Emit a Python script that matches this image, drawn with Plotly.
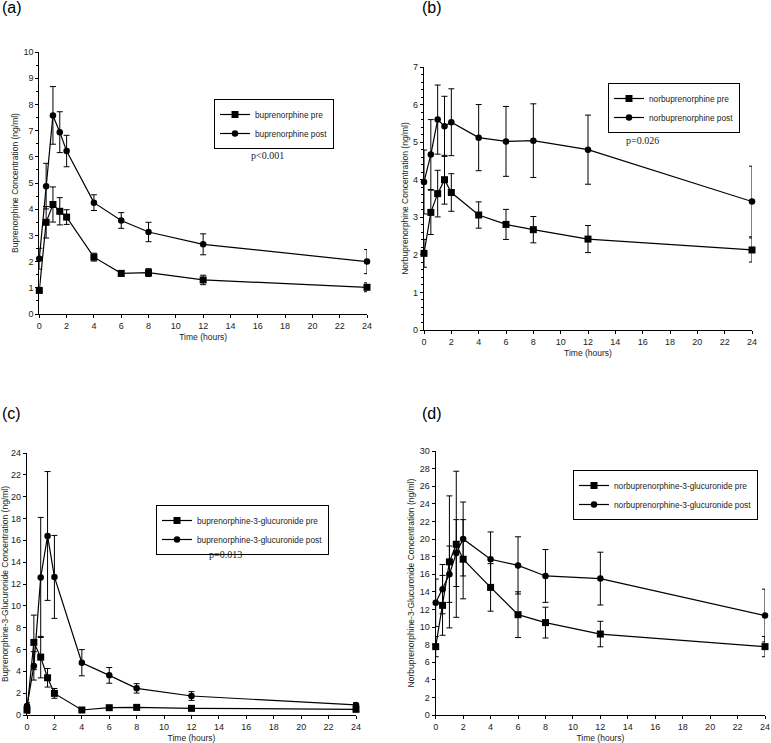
import plotly.graph_objects as go

time = [0, 0.5, 1, 1.5, 2, 4, 6, 8, 12, 24]

# Panel (a) buprenorphine
bup_pre = [0.9, 3.5, 4.18, 3.92, 3.7, 2.17, 1.55, 1.58, 1.3, 1.02]
bup_pre_err = [0.08, 0.6, 0.67, 0.52, 0.28, 0.15, 0.1, 0.15, 0.18, 0.17]
bup_post = [2.11, 4.88, 7.58, 6.94, 6.22, 4.25, 3.57, 3.13, 2.66, 2.0]
bup_post_err = [0.4, 0.87, 1.1, 0.78, 0.6, 0.3, 0.3, 0.37, 0.4, 0.46]

# Panel (b) norbuprenorphine
nor_pre = [2.04, 3.13, 3.63, 4.0, 3.66, 3.06, 2.81, 2.67, 2.42, 2.13]
nor_pre_err = [0.37, 0.59, 0.62, 0.65, 0.5, 0.35, 0.4, 0.35, 0.36, 0.32]
nor_post = [3.94, 4.67, 5.6, 5.42, 5.53, 5.12, 5.02, 5.04, 4.8, 3.42]
nor_post_err = [0.85, 0.93, 0.92, 0.8, 0.89, 0.88, 0.93, 0.98, 0.92, 0.94]

# Panel (c) buprenorphine-3-glucuronide
b3g_pre = [0.46, 6.65, 5.3, 3.41, 1.98, 0.46, 0.67, 0.7, 0.61, 0.52]
b3g_pre_err = [0.3, 2.5, 1.9, 0.85, 0.45, 0.1, 0.1, 0.1, 0.1, 0.1]
b3g_post = [0.82, 4.5, 12.6, 16.4, 12.65, 4.79, 3.63, 2.44, 1.74, 0.92]
b3g_post_err = [0.3, 1.3, 5.5, 5.9, 3.8, 1.2, 0.72, 0.43, 0.4, 0.2]

# Panel (d) norbuprenorphine-3-glucuronide
n3g_pre = [7.77, 12.46, 17.4, 19.4, 17.7, 14.5, 11.4, 10.5, 9.2, 7.77]
n3g_pre_err = [1.15, 3.4, 7.5, 8.3, 4.5, 2.7, 2.6, 1.75, 1.45, 1.15]
n3g_post = [12.75, 14.3, 16.0, 18.4, 20.0, 17.7, 17.0, 15.8, 15.5, 11.3]
n3g_post_err = [2.7, 2.8, 3.2, 3.8, 4.2, 3.1, 3.25, 3.0, 3.0, 3.0]

x_ticks = list(range(0, 25, 2))

panels = [
    dict(pre=bup_pre, pre_err=bup_pre_err, post=bup_post, post_err=bup_post_err,
         name_pre="buprenorphine pre", name_post="buprenorphine post",
         ytitle="Buprenorphine Concentration (ng/ml)", yrange=[0, 10], dtick=1, minor=0.5,
         xdom=[39.3, 367], ydom=[52, 314], legend=[214, 99],
         pval="p<0.001", ppos=[267, 148], label="(a)", lpos=[0, 8]),
    dict(pre=nor_pre, pre_err=nor_pre_err, post=nor_post, post_err=nor_post_err,
         name_pre="norbuprenorphine pre", name_post="norbuprenorphine post",
         ytitle="Norbuprenorphine Concentration (ng/ml)", yrange=[0, 7], dtick=1, minor=0.2,
         xdom=[424, 752], ydom=[67, 330], legend=[608, 83],
         pval="p=0.026", ppos=[661, 133], label="(b)", lpos=[420, 8]),
    dict(pre=b3g_pre, pre_err=b3g_pre_err, post=b3g_post, post_err=b3g_post_err,
         name_pre="buprenorphine-3-glucuronide pre", name_post="buprenorphine-3-glucuronide post",
         ytitle="Buprenorphine-3-Glucuronide Concentration (ng/ml)", yrange=[0, 24], dtick=2, minor=None,
         xdom=[27, 356], ydom=[453, 715], legend=[156, 505],
         pval="p=0.013", ppos=[207, 562], label="(c)", lpos=[0, 413]),
    dict(pre=n3g_pre, pre_err=n3g_pre_err, post=n3g_post, post_err=n3g_post_err,
         name_pre="norbuprenorphine-3-glucuronide pre", name_post="norbuprenorphine-3-glucuronide post",
         ytitle="Norbuprenorphine-3-Glucuronide Concentration (ng/ml)", yrange=[0, 30], dtick=2, minor=None,
         xdom=[435.7, 765], ydom=[451, 715], legend=[573, 470],
         pval=None, ppos=None, label="(d)", lpos=[420, 413]),
]

W, H = 771, 743
fig = go.Figure()
annotations = []
layout = {}

for i, p in enumerate(panels):
    n = i + 1
    xa = "xaxis" if n == 1 else f"xaxis{n}"
    ya = "yaxis" if n == 1 else f"yaxis{n}"
    xref = "x" if n == 1 else f"x{n}"
    yref = "y" if n == 1 else f"y{n}"
    leg = "legend" if n == 1 else f"legend{n}"
    for name, vals, err, sym in [(p["name_pre"], p["pre"], p["pre_err"], "square"),
                                 (p["name_post"], p["post"], p["post_err"], "circle")]:
        fig.add_trace(go.Scatter(
            x=time, y=vals, name=name, mode="lines+markers",
            xaxis=xref, yaxis=yref, legend=leg, cliponaxis=False,
            line=dict(color="black", width=1.2),
            marker=dict(symbol=sym, size=7 if sym == "square" else 6.5, color="black"),
            error_y=dict(type="data", array=err, visible=True, color="black",
                         thickness=1, width=3),
        ))
    x0, x1 = p["xdom"]
    y0, y1 = p["ydom"]
    layout[xa] = dict(
        domain=[x0 / W, x1 / W], range=[0, 24], tickvals=x_ticks, automargin=False,
        showline=True, linecolor="black", linewidth=1.2, ticks="outside",
        ticklen=3, tickcolor="black", showgrid=False, zeroline=False,
        tickfont=dict(family="Arial", size=9, color="#222"),
        title=dict(text="Time (hours)", font=dict(family="Arial", size=8.5, color="#222"), standoff=4),
        anchor=yref,
    )
    yaxis = dict(
        domain=[1 - y1 / H, 1 - y0 / H], range=p["yrange"], dtick=p["dtick"], automargin=False,
        showline=True, linecolor="black", linewidth=1.2, ticks="outside",
        ticklen=3, tickcolor="black", showgrid=False, zeroline=False,
        tickfont=dict(family="Arial", size=9, color="#222"),
        title=dict(text=p["ytitle"], font=dict(family="Arial", size=8.5, color="#222"), standoff=3),
        anchor=xref,
    )
    if p["minor"]:
        yaxis["minor"] = dict(dtick=p["minor"], ticks="outside", ticklen=2, tickcolor="black", showgrid=False)
    layout[ya] = yaxis
    lx0, ly0 = p["legend"]
    layout[leg] = dict(
        x=lx0 / W, y=1 - ly0 / H, xanchor="left", yanchor="top",
        bordercolor="black", borderwidth=1, bgcolor="white",
        font=dict(family="Arial", size=8.3, color="#222"),
        tracegroupgap=0, itemwidth=30,
    )
    if p["pval"]:
        annotations.append(dict(
            text=p["pval"], x=p["ppos"][0] / W, y=1 - p["ppos"][1] / H,
            xref="paper", yref="paper", showarrow=False,
            font=dict(family="Liberation Serif", size=10, color="#222"),
        ))
    annotations.append(dict(
        text=p["label"], x=p["lpos"][0] / W, y=1 - p["lpos"][1] / H,
        xref="paper", yref="paper", xanchor="left", yanchor="middle", showarrow=False,
        font=dict(family="Arial", size=16, color="black"),
    ))

fig.update_layout(
    width=W, height=H, margin=dict(l=0, r=0, t=0, b=0, autoexpand=False),
    paper_bgcolor="white", plot_bgcolor="white",
    showlegend=True, annotations=annotations, **layout,
)

fig.write_html("out.html", config={"displayModeBar": False},
               post_script="document.body.style.margin='0';")
